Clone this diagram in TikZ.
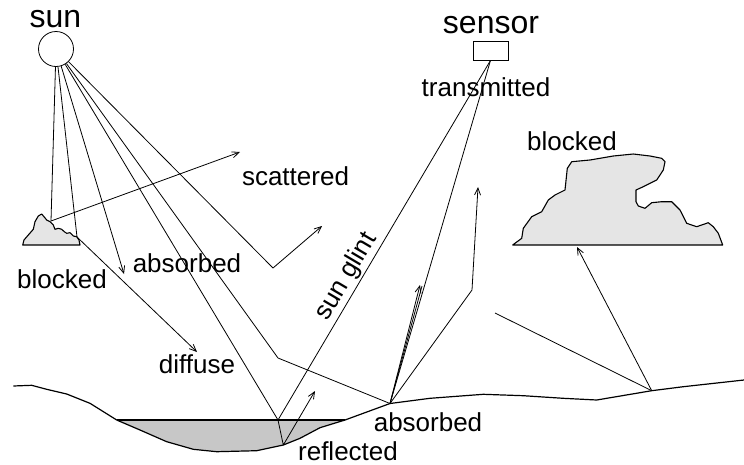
\documentclass[tikz,border=0pt]{standalone}
\usepackage{fontspec}
\setmainfont{Liberation Sans}
\usetikzlibrary{arrows.meta}

\begin{document}
\begin{tikzpicture}[x=1pt,y=-1pt,
  ray/.style={draw=black, line width=0.8pt, line join=round},
  arr/.style={ray, -{Straight Barb[length=7pt,width=6pt]}},
  ground/.style={draw=black, line width=1.2pt, line join=round},
  cloudfill/.style={draw=black, line width=1.1pt, fill=black!10, line join=round},
  waterfill/.style={fill=black!22},
  lbl/.style={font=\fontsize{26}{28}\selectfont, anchor=base, inner sep=0pt},
  big/.style={font=\fontsize{32}{34}\selectfont, anchor=base, inner sep=0pt}]

\useasboundingbox (0,0) rectangle (744,464);

% light sources and sensor
\node[draw, circle, line width=0.8pt, minimum size=35pt, inner sep=0pt] (sun) at (56,49) {};
\node[draw, line width=0.8pt, minimum width=35pt, minimum height=19pt, inner sep=0pt] (sensor) at (490.5,50.5) {};
\node[big] (sunlbl) at (55.5,27) {sun};
\node[big] (sensorlbl) at (491,33) {sensor};

% water body
\fill[waterfill] (116.7,420) -- (140,430) -- (166.7,441.7) -- (193.3,449.3) -- (216.7,451.7)
  -- (256.7,450.7) -- (283.3,445) -- (300,438.3) -- (320,427.7) -- (345,420) -- cycle;
\draw[ground] (116.7,420) -- (140,430) -- (166.7,441.7) -- (193.3,449.3) -- (216.7,451.7)
  -- (256.7,450.7) -- (283.3,445) -- (300,438.3) -- (320,427.7) -- (345,420);
\draw[ground] (116.7,420) -- (345,420);

% key points
\coordinate (c1) at (51,221);
\coordinate (c2) at (77,237);
\coordinate (absA) at (124,274);
\coordinate (w1) at (278,420);
\coordinate (wb) at (283.3,445);
\coordinate (refl) at (315,391);
\coordinate (k5) at (278,358);
\coordinate (gA) at (390,403.5);
\coordinate (k6) at (273,268);
\coordinate (sc1) at (240,152);
\coordinate (sc2) at (322,226);
\coordinate (dif) at (197,352);
\coordinate (up1) at (420,285);
\coordinate (up1b) at (422,286);
\coordinate (k7) at (472,290);
\coordinate (up2) at (478,187);
\coordinate (gB) at (651.7,390.7);
\coordinate (inB) at (495,313);
\coordinate (cl) at (577,247);

% ground profile
\draw[ground] (13.3,386) -- (31.7,385.3) -- (46.7,389.3) -- (66.7,394) -- (90,403.3) -- (116.7,420);
\draw[ground] (345,420) -- (gA) -- (430,398.3) -- (483.3,394.3) -- (523.3,395.7) -- (563.3,398.3)
  -- (596.7,400) -- (gB) -- (683.3,386.7) -- (744,380);

% clouds
\draw[cloudfill] (22.7,245) -- (24,240) -- (28.3,235) -- (33.3,229.3) -- (35,221.7) -- (38.3,216)
  -- (41.7,214) -- (44,216.7) -- (46.7,220) -- (50,221.7) -- (53.3,225) -- (55,229.3)
  -- (58.3,228.3) -- (61.7,229.3) -- (64.3,231.7) -- (66.7,233.3) -- (70,232.7) -- (73.3,236)
  -- (76.7,236.7) -- (79,240) -- (80,245) -- cycle;
\draw[cloudfill] (512.7,245) -- (521.7,238.3) -- (523.3,228.3) -- (531.7,216.7) -- (541.7,211.7)
  -- (548.3,200) -- (555,195) -- (565,190) -- (567.3,168.3) -- (571.7,161.7) -- (590,160)
  -- (613.3,156) -- (633.3,154) -- (650,156) -- (661.7,158.3) -- (665,161.7) -- (663.3,170)
  -- (656.7,180) -- (643.3,186.7) -- (636,190) -- (636,201.7) -- (638.3,206) -- (645,208.3)
  -- (651.7,202.7) -- (661.7,201.7) -- (671.7,201.7) -- (680,210) -- (686.7,223.3)
  -- (696.7,226.7) -- (708.3,222.7) -- (713.3,226.7) -- (718.3,233.3) -- (722.7,245) -- cycle;

% solar rays
\draw[ray] (sun) -- (c1);
\draw[ray] (sun) -- (c2);
\draw[arr] (sun) -- (absA);
\draw[arr] (sun) -- (w1) -- (wb) -- (refl);
\draw[ray] (sun) -- (k5) -- (gA);
\draw[arr] (sun) -- (k6) -- (sc2);
\draw[arr] (c1) -- (sc1);
\draw[arr] (c2) -- (dif);

% paths towards the sensor
\draw[ray] (w1) -- (sensor.south);
\draw[ray] (gA) -- (sensor.south);
\draw[arr] (gA) -- (up1);
\draw[ray] (gA) -- (up1b);
\draw[arr] (gA) -- (k7) -- (up2);
\draw[ray] (inB) -- (gB);
\draw[arr] (gB) -- (cl);

% labels
\node[lbl] (lblblockL) at (62,288) {blocked};
\node[lbl] (lblabsU) at (187,272.7) {absorbed};
\node[lbl] (lblscat) at (295.5,185) {scattered};
\node[lbl] (lbltrans) at (486,96.7) {transmitted};
\node[lbl] (lbldiff) at (197,373.3) {diffuse};
\node[lbl] (lblblockR) at (572,150.7) {blocked};
\node[lbl] (lblabsL) at (428,431.7) {absorbed};
\node[lbl] (lblrefl) at (348,460) {reflected};
\node[font=\fontsize{26}{28}\selectfont, inner sep=0pt, rotate=59.4] (lblglint) at (346.4,276.7) {sun glint};

\end{tikzpicture}
\end{document}
